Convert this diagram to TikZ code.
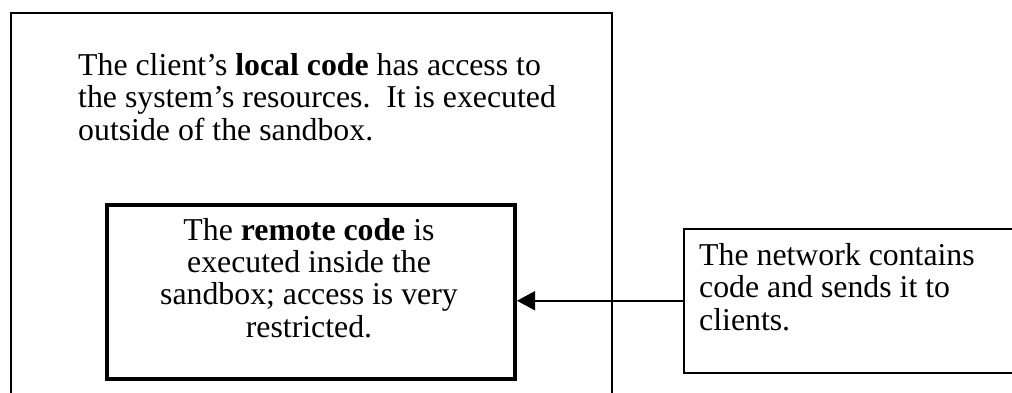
\documentclass[tikz,border=0pt]{standalone}
\usepackage{fontspec}
\setmainfont{Liberation Serif}
\usetikzlibrary{arrows.meta}
\begin{document}
\begin{tikzpicture}[x=1pt,y=-1pt,
  txt/.style={inner sep=0pt, font=\fontsize{31.8}{32.3}\selectfont},
  framebox/.style={draw, inner sep=0pt, rectangle},
  feed/.style={line width=1.5pt, -{Triangle[length=18pt,width=19pt]}}]
\useasboundingbox (0,0) rectangle (1012,392);
\clip (0,0) rectangle (1012,392);
% client machine (bottom edge runs below the page)
\node[framebox, line width=2pt, anchor=north west, minimum width=601pt, minimum height=420pt] (client) at (10,12) {};
% sandbox
\node[framebox, line width=4pt, anchor=north west, minimum width=408pt, minimum height=174pt] (sandbox) at (105,203) {};
% network (right edge runs past the page)
\node[framebox, line width=1.5pt, anchor=north west, minimum width=360pt, minimum height=144pt] (network) at (683,228) {};
% texts (base anchor = baseline of the last line)
\node[txt, anchor=base west, align=left] (localtxt) at (78,140)
  {The client’s \textbf{local code} has access to\\
   the system’s resources.\ \ It is executed\\
   outside of the sandbox.};
\node[txt, anchor=base, align=center] (remotetxt) at (309,337)
  {The \textbf{remote code} is\\
   executed inside the\\
   sandbox; access is very\\
   restricted.};
\node[txt, anchor=base west, align=left] (nettxt) at (699,330)
  {The network contains\\
   code and sends it to\\
   clients.};
% code flowing into the sandbox
\draw[feed] (network.west) -- (network.west -| sandbox.east);
\end{tikzpicture}
\end{document}
